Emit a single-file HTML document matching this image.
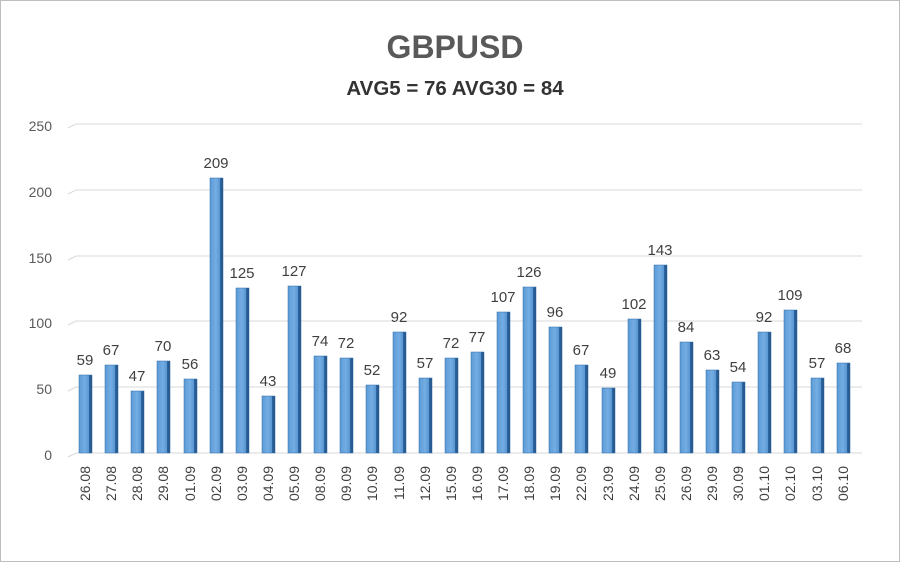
<!DOCTYPE html>
<html><head><meta charset="utf-8"><style>
body{margin:0;background:#fff}
svg{display:block;font-family:"Liberation Sans",sans-serif}
</style></head><body>
<svg width="900" height="562" viewBox="0 0 900 562" xmlns="http://www.w3.org/2000/svg">
<defs>
<linearGradient id="g" x1="0" x2="1" y1="0" y2="0">
<stop offset="0" stop-color="#5b9ad6"/><stop offset="0.45" stop-color="#74ade3"/><stop offset="0.75" stop-color="#5a97d3"/><stop offset="0.76" stop-color="#2f6aa6"/><stop offset="1" stop-color="#244f80"/>
</linearGradient>
</defs>
<rect x="0.5" y="0.5" width="899" height="561" fill="#fff" stroke="#bdbdbd"/>
<text x="455" y="58" text-anchor="middle" font-size="32" font-weight="bold" fill="#595959">GBPUSD</text>
<text x="455" y="95" text-anchor="middle" font-size="20.5" font-weight="bold" fill="#333">AVG5 = 76 AVG30 = 84</text>
<g stroke="#d9d9d9" stroke-width="1" fill="none">
<path d="M68 457 L76 453 H862"/><path d="M68 391 L76 387 H862"/><path d="M68 325 L76 321 H862"/><path d="M68 260 L76 256 H862"/><path d="M68 194 L76 190 H862"/><path d="M68 128 L76 124 H862"/>
</g>
<g font-size="14" fill="#595959" text-anchor="end">
<text x="52" y="460">0</text><text x="52" y="394">50</text><text x="52" y="328">100</text><text x="52" y="263">150</text><text x="52" y="197">200</text><text x="52" y="131">250</text>
</g>
<g fill="url(#g)" stroke="#2f6ea8" stroke-width="0.5">
<rect x="79" y="375" width="13" height="78"/>
<rect x="105" y="365" width="13" height="88"/>
<rect x="131" y="391" width="13" height="62"/>
<rect x="157" y="361" width="13" height="92"/>
<rect x="184" y="379" width="13" height="74"/>
<rect x="210" y="178" width="13" height="275"/>
<rect x="236" y="288" width="13" height="165"/>
<rect x="262" y="396" width="13" height="57"/>
<rect x="288" y="286" width="13" height="167"/>
<rect x="314" y="356" width="13" height="97"/>
<rect x="340" y="358" width="13" height="95"/>
<rect x="366" y="385" width="13" height="68"/>
<rect x="393" y="332" width="13" height="121"/>
<rect x="419" y="378" width="13" height="75"/>
<rect x="445" y="358" width="13" height="95"/>
<rect x="471" y="352" width="13" height="101"/>
<rect x="497" y="312" width="13" height="141"/>
<rect x="523" y="287" width="13" height="166"/>
<rect x="549" y="327" width="13" height="126"/>
<rect x="575" y="365" width="13" height="88"/>
<rect x="602" y="388" width="13" height="65"/>
<rect x="628" y="319" width="13" height="134"/>
<rect x="654" y="265" width="13" height="188"/>
<rect x="680" y="342" width="13" height="111"/>
<rect x="706" y="370" width="13" height="83"/>
<rect x="732" y="382" width="13" height="71"/>
<rect x="758" y="332" width="13" height="121"/>
<rect x="784" y="310" width="13" height="143"/>
<rect x="811" y="378" width="13" height="75"/>
<rect x="837" y="363" width="13" height="90"/>
</g>
<g font-size="15" fill="#404040" text-anchor="middle">
<text x="85" y="365">59</text><text x="111" y="355">67</text><text x="137" y="381">47</text><text x="163" y="351">70</text><text x="190" y="369">56</text><text x="216" y="168">209</text><text x="242" y="278">125</text><text x="268" y="386">43</text><text x="294" y="276">127</text><text x="320" y="346">74</text><text x="346" y="348">72</text><text x="372" y="375">52</text><text x="399" y="322">92</text><text x="425" y="368">57</text><text x="451" y="348">72</text><text x="477" y="342">77</text><text x="503" y="302">107</text><text x="529" y="277">126</text><text x="555" y="317">96</text><text x="581" y="355">67</text><text x="608" y="378">49</text><text x="634" y="309">102</text><text x="660" y="255">143</text><text x="686" y="332">84</text><text x="712" y="360">63</text><text x="738" y="372">54</text><text x="764" y="322">92</text><text x="790" y="300">109</text><text x="817" y="368">57</text><text x="843" y="353">68</text>
</g>
<g font-size="14" fill="#404040" text-anchor="end">
<text transform="translate(90,466) rotate(-90)">26.08</text>
<text transform="translate(116,466) rotate(-90)">27.08</text>
<text transform="translate(142,466) rotate(-90)">28.08</text>
<text transform="translate(168,466) rotate(-90)">29.08</text>
<text transform="translate(195,466) rotate(-90)">01.09</text>
<text transform="translate(221,466) rotate(-90)">02.09</text>
<text transform="translate(247,466) rotate(-90)">03.09</text>
<text transform="translate(273,466) rotate(-90)">04.09</text>
<text transform="translate(299,466) rotate(-90)">05.09</text>
<text transform="translate(325,466) rotate(-90)">08.09</text>
<text transform="translate(351,466) rotate(-90)">09.09</text>
<text transform="translate(377,466) rotate(-90)">10.09</text>
<text transform="translate(404,466) rotate(-90)">11.09</text>
<text transform="translate(430,466) rotate(-90)">12.09</text>
<text transform="translate(456,466) rotate(-90)">15.09</text>
<text transform="translate(482,466) rotate(-90)">16.09</text>
<text transform="translate(508,466) rotate(-90)">17.09</text>
<text transform="translate(534,466) rotate(-90)">18.09</text>
<text transform="translate(560,466) rotate(-90)">19.09</text>
<text transform="translate(586,466) rotate(-90)">22.09</text>
<text transform="translate(613,466) rotate(-90)">23.09</text>
<text transform="translate(639,466) rotate(-90)">24.09</text>
<text transform="translate(665,466) rotate(-90)">25.09</text>
<text transform="translate(691,466) rotate(-90)">26.09</text>
<text transform="translate(717,466) rotate(-90)">29.09</text>
<text transform="translate(743,466) rotate(-90)">30.09</text>
<text transform="translate(769,466) rotate(-90)">01.10</text>
<text transform="translate(795,466) rotate(-90)">02.10</text>
<text transform="translate(822,466) rotate(-90)">03.10</text>
<text transform="translate(848,466) rotate(-90)">06.10</text>
</g>
</svg>
</body></html>
